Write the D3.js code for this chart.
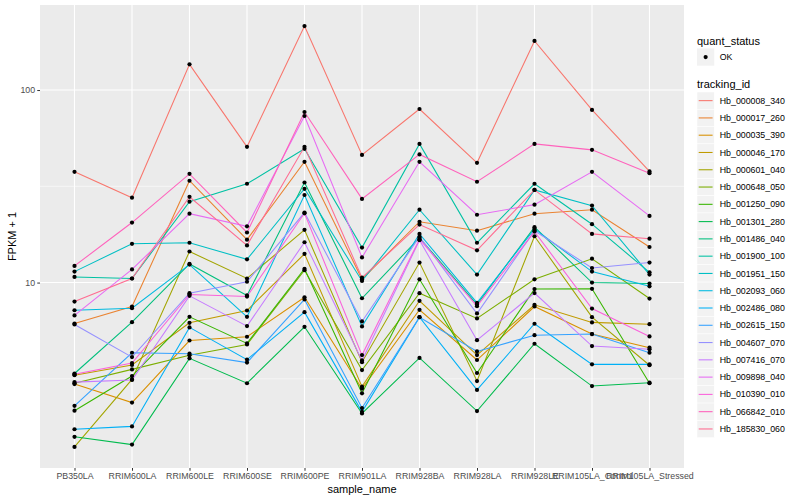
<!DOCTYPE html>
<html>
<head>
<meta charset="utf-8">
<script src="https://cdn.jsdelivr.net/npm/d3@7"></script>
<style>
  body { margin: 0; background: #fff; }
  text { font-family: "Liberation Sans", Arial, sans-serif; }
</style>
</head>
<body>
<script>
var width = 800;
var height = 500;

// samples on the x axis
var samples = ["PB350LA", "RRIM600LA", "RRIM600LE", "RRIM600SE", "RRIM600PE", "RRIM901LA",
               "RRIM928BA", "RRIM928LA", "RRIM928LE", "RRIM105LA_Control", "RRIM105LA_Stressed"];

var trackingIds = ["Hb_000008_340", "Hb_000017_260", "Hb_000035_390", "Hb_000046_170", "Hb_000601_040",
                   "Hb_000648_050", "Hb_001250_090", "Hb_001301_280", "Hb_001486_040", "Hb_001900_100",
                   "Hb_001951_150", "Hb_002093_060", "Hb_002486_080", "Hb_002615_150", "Hb_004607_070",
                   "Hb_007416_070", "Hb_009898_040", "Hb_010390_010", "Hb_066842_010", "Hb_185830_060"];

// FPKM + 1, one array per tracking id, in sample order
var hb000008 = [37.6, 27.6, 136, 50.7, 215, 46.0, 79.7, 41.9, 180, 78.8, 37.8];
var hb000017 = [6.13, 7.51, 33.8, 16.7, 42.4, 10.4, 20.7, 18.6, 22.8, 23.9, 15.3];
var hb000035 = [2.97, 2.38, 5.00, 5.23, 8.39, 2.81, 7.22, 3.96, 7.51, 5.40, 4.59];
var hb000046 = [3.30, 3.73, 6.18, 7.16, 14.1, 2.88, 8.04, 4.20, 7.66, 6.21, 6.08];
var hb000601 = [1.40, 3.14, 14.5, 10.5, 18.8, 3.86, 12.7, 3.08, 17.4, 6.61, 3.72];
var hb000648 = [3.00, 3.54, 4.19, 4.77, 11.6, 3.51, 8.81, 6.51, 10.4, 13.3, 8.26];
var hb001250 = [2.16, 3.27, 6.64, 4.83, 11.8, 2.66, 10.4, 3.39, 9.25, 9.28, 3.00];
var hb001301 = [1.58, 1.44, 4.04, 3.00, 5.89, 2.09, 4.06, 2.15, 4.81, 2.90, 3.02];
var hb001486 = [3.37, 6.23, 12.5, 8.57, 33.1, 8.29, 17.1, 7.69, 19.4, 10.0, 9.88];
var hb001900 = [10.7, 10.5, 26.3, 32.6, 49.5, 15.2, 52.5, 16.1, 32.6, 20.1, 11.3];
var hb001951 = [11.4, 15.9, 16.1, 13.2, 30.7, 10.2, 23.9, 11.0, 30.3, 25.1, 11.0];
var hb002093 = [7.18, 7.36, 12.4, 6.64, 28.5, 5.92, 17.9, 7.85, 19.0, 11.4, 9.56];
var hb002486 = [1.73, 1.79, 5.85, 3.98, 7.02, 2.13, 6.61, 2.77, 6.11, 3.76, 3.76];
var hb002615 = [2.29, 4.32, 4.27, 3.84, 8.17, 2.23, 6.61, 4.39, 5.33, 5.40, 4.32];
var hb004607 = [6.06, 4.10, 8.81, 10.1, 23.1, 6.28, 17.3, 6.91, 18.6, 11.9, 12.7];
var hb007416 = [3.04, 3.12, 8.53, 5.94, 16.2, 3.94, 16.6, 5.02, 8.82, 4.68, 4.50];
var hb009898 = [6.75, 11.7, 22.8, 19.6, 73.3, 13.5, 42.4, 22.5, 25.4, 37.6, 22.2];
var hb010390 = [3.34, 3.82, 8.67, 8.46, 22.9, 4.20, 16.8, 7.54, 18.4, 7.33, 5.25];
var hb066842 = [12.2, 20.5, 36.7, 18.2, 76.9, 27.2, 46.3, 33.4, 52.5, 48.9, 37.0];
var hb185830 = [7.97, 10.5, 27.9, 15.6, 50.7, 10.6, 20.0, 14.7, 30.3, 17.9, 16.9];

var seriesValues = [hb000008, hb000017, hb000035, hb000046, hb000601, hb000648, hb001250, hb001301,
                    hb001486, hb001900, hb001951, hb002093, hb002486, hb002615, hb004607, hb007416,
                    hb009898, hb010390, hb066842, hb185830];

var yTicks = [10, 100];
var yMinor = [Math.sqrt(10), Math.sqrt(1000)];

// ggplot hue palette, 20 levels
var palette = ["#F8766D", "#EA8331", "#D89000", "#C09B00", "#A3A500", "#7CAE00", "#39B600", "#00BB4E",
               "#00BF7D", "#00C1A3", "#00BFC4", "#00BAE0", "#00B0F6", "#35A2FF", "#9590FF", "#C77CFF",
               "#E76BF3", "#FA62DB", "#FF62BC", "#FF6C91"];

var series = trackingIds.map(function(id, i) {
  return { id: id, values: seriesValues[i].map(function(v, j) { return { sample: samples[j], value: v }; }) };
});

var panel = { left: 40, right: 684, top: 5, bottom: 468 };

var svg = d3.select("body").append("svg")
  .attr("width", width)
  .attr("height", height);

var x = d3.scalePoint()
  .domain(samples)
  .range([panel.left, panel.right])
  .padding(0.6);

// log range expanded by 5% like ggplot
var allVals = d3.merge(seriesValues);
var lo = Math.log10(d3.min(allVals)), hi = Math.log10(d3.max(allVals));
var pad = (hi - lo) * 0.05;
var y = d3.scaleLog()
  .domain([Math.pow(10, lo - pad), Math.pow(10, hi + pad)])
  .range([panel.bottom, panel.top]);

svg.append("rect")
  .attr("x", panel.left).attr("y", panel.top)
  .attr("width", panel.right - panel.left).attr("height", panel.bottom - panel.top)
  .attr("fill", "#EBEBEB");

svg.append("g").selectAll("line").data(yMinor).enter().append("line")
  .attr("x1", panel.left).attr("x2", panel.right)
  .attr("y1", function(d) { return y(d); }).attr("y2", function(d) { return y(d); })
  .attr("stroke", "#fff").attr("stroke-width", 0.55);

svg.append("g").selectAll("line").data(yTicks).enter().append("line")
  .attr("x1", panel.left).attr("x2", panel.right)
  .attr("y1", function(d) { return y(d); }).attr("y2", function(d) { return y(d); })
  .attr("stroke", "#fff").attr("stroke-width", 1.1);

svg.append("g").selectAll("line").data(samples).enter().append("line")
  .attr("x1", function(d) { return x(d); }).attr("x2", function(d) { return x(d); })
  .attr("y1", panel.top).attr("y2", panel.bottom)
  .attr("stroke", "#fff").attr("stroke-width", 1.1);

var line = d3.line()
  .x(function(d) { return x(d.sample); })
  .y(function(d) { return y(d.value); });

svg.append("g").selectAll("path").data(series).enter().append("path")
  .attr("d", function(d) { return line(d.values); })
  .attr("fill", "none")
  .attr("stroke", function(d, i) { return palette[i]; })
  .attr("stroke-width", 1.07);

svg.append("g").selectAll("circle").data(d3.merge(series.map(function(s) { return s.values; })))
  .enter().append("circle")
  .attr("cx", function(d) { return x(d.sample); })
  .attr("cy", function(d) { return y(d.value); })
  .attr("r", 2.1)
  .attr("fill", "#000");

// axes
var xAxis = d3.axisBottom(x).tickSize(2.75).tickPadding(2.5);
var gx = svg.append("g").attr("transform", "translate(0," + panel.bottom + ")").call(xAxis);
gx.select(".domain").remove();
gx.selectAll("line").attr("stroke", "#333333");
gx.selectAll("text").attr("fill", "#4D4D4D").style("font-size", "8.8px");

var yAxis = d3.axisLeft(y).tickValues(yTicks).tickFormat(d3.format("d")).tickSize(2.75).tickPadding(2.2);
var gy = svg.append("g").attr("transform", "translate(" + panel.left + ",0)").call(yAxis);
gy.select(".domain").remove();
gy.selectAll("line").attr("stroke", "#333333");
gy.selectAll("text").attr("fill", "#4D4D4D").style("font-size", "8.8px");

svg.append("text")
  .attr("x", (panel.left + panel.right) / 2).attr("y", 493)
  .attr("text-anchor", "middle").style("font-size", "11px")
  .text("sample_name");

svg.append("text")
  .attr("transform", "translate(16," + (panel.top + panel.bottom) / 2 + ") rotate(-90)")
  .attr("text-anchor", "middle").style("font-size", "11px")
  .text("FPKM + 1");

// legends
var lx = 697, key = 17.28;
svg.append("text").attr("x", lx).attr("y", 44.5).style("font-size", "11px").text("quant_status");
svg.append("rect").attr("x", lx).attr("y", 48.4).attr("width", key).attr("height", key).attr("fill", "#F2F2F2");
svg.append("circle").attr("cx", lx + key / 2).attr("cy", 48.4 + key / 2).attr("r", 2.1).attr("fill", "#000");
svg.append("text").attr("x", lx + key + 5.5).attr("y", 48.4 + key / 2 + 3.1).style("font-size", "8.8px").text("OK");

svg.append("text").attr("x", lx).attr("y", 88).style("font-size", "11px").text("tracking_id");
var keys = svg.append("g").selectAll("g").data(trackingIds).enter().append("g")
  .attr("transform", function(d, i) { return "translate(" + lx + "," + (92 + i * key) + ")"; });
keys.append("rect").attr("width", key).attr("height", key).attr("fill", "#F2F2F2")
  .attr("stroke", "#fff").attr("stroke-width", 0.5);
keys.append("line")
  .attr("x1", 1.7).attr("x2", key - 1.7).attr("y1", key / 2).attr("y2", key / 2)
  .attr("stroke", function(d, i) { return palette[i]; }).attr("stroke-width", 1.07);
keys.append("text").attr("x", key + 5.5).attr("y", key / 2 + 3.1)
  .style("font-size", "8.8px").text(function(d) { return d; });
</script>
</body>
</html>
